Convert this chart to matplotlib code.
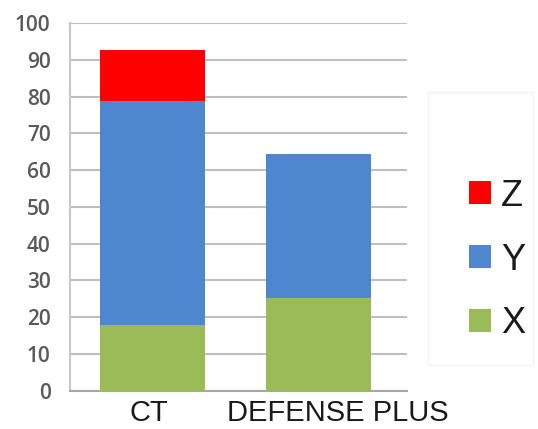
import matplotlib
matplotlib.use("Agg")
import matplotlib.pyplot as plt
from matplotlib.patches import Rectangle
import numpy as np

categories = ["CT", "DEFENSE PLUS"]
x_vals = [17.8, 25.3]
y_vals = [61.0, 39.1]
z_vals = [13.9, 0.0]
y_ticks = list(range(0, 101, 10))

c_x = "#9BBB59"
c_y = "#4F86D0"
c_z = "#FF0000"

fig = plt.figure(figsize=(5.38, 4.29), dpi=100)
ax = fig.add_axes([70/538, 1-390.7/429, (407-70)/538, (390.7-23)/429])

pos = np.arange(len(categories))
w = 0.633
bx = ax.bar(pos, x_vals, w, color=c_x, label="X", zorder=3)
by = ax.bar(pos, y_vals, w, bottom=x_vals, color=c_y, label="Y", zorder=3)
bottom_z = [a + b for a, b in zip(x_vals, y_vals)]
bz = ax.bar(pos, z_vals, w, bottom=bottom_z, color=c_z, label="Z", zorder=3)

ax.set_xlim(-0.4976, 1.535)
ax.set_ylim(0, 100)
ax.set_yticks(y_ticks)
# label offsets (in category units) to match the reference label placement
label_offsets = np.array([-0.024, 0.115])
ax.set_xticks(pos + label_offsets)
ax.set_xticklabels(categories, fontfamily="Liberation Sans", fontsize=21, color="#1a1a1a")
for lab in ax.get_yticklabels():
    lab.set_fontfamily("Open Sans")
    lab.set_fontsize(15)
    lab.set_color("#595959")
    lab.set_fontweight("semibold")
ax.tick_params(axis="y", length=0, pad=14)
ax.tick_params(axis="x", length=0, pad=6)
ax.yaxis.grid(True, color="#BFBFBF", linewidth=1.5, zorder=0)
ax.set_axisbelow(True)
for s in ["top", "right"]:
    ax.spines[s].set_visible(False)
ax.spines["left"].set_color("#C8C8C8")
ax.spines["left"].set_linewidth(1.5)
ax.spines["bottom"].set_color("#A6A6A6")
ax.spines["bottom"].set_linewidth(1.5)

# faint legend box
fig.patches.append(Rectangle((428/538, 1-365/429), (533-428)/538, (365-92)/429,
                             transform=fig.transFigure, fill=False,
                             edgecolor="#F4F4F4", linewidth=1.0))

leg = fig.legend(handles=[bz, by, bx], labels=["Z", "Y", "X"],
                 loc="center left", bbox_to_anchor=(451/538, 1-260/429),
                 frameon=False, borderpad=0, handlelength=0.61, handleheight=0.61,
                 handletextpad=0.28, labelspacing=0.8,
                 prop={"family": "Liberation Sans", "size": 26})
for t in leg.get_texts():
    t.set_color("#1a1a1a")

fig.savefig("out.png", dpi=100)
